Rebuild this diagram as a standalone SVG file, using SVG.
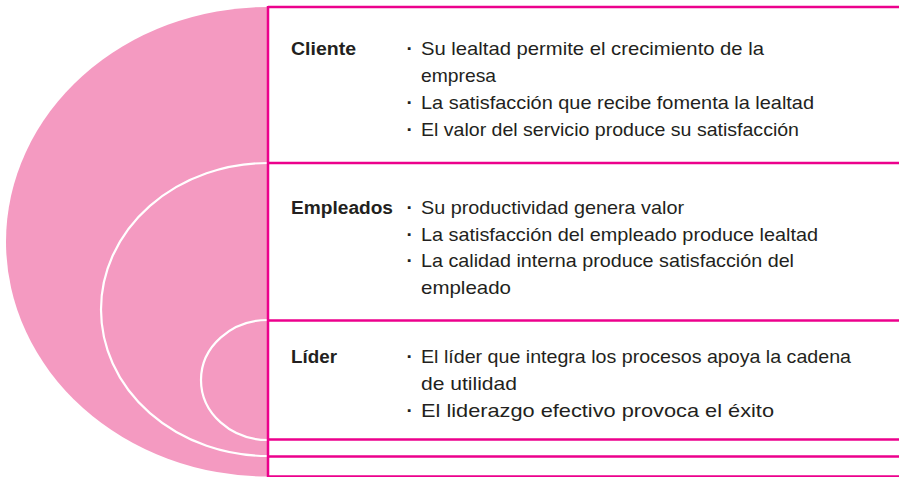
<svg xmlns="http://www.w3.org/2000/svg" width="899" height="477" viewBox="0 0 899 477">
<style>
.rule{stroke:#EC008C;stroke-width:2.5;fill:none}
.arc{stroke:#FFFFFF;stroke-width:2.2;fill:none}
.lbl{font-family:"Liberation Sans",Arial,sans-serif;font-weight:bold;font-size:18px;fill:#231F20}
.txt{font-family:"Liberation Sans",Arial,sans-serif;font-size:18.5px;fill:#231F20}
.bul{font-family:"Liberation Sans",Arial,sans-serif;font-size:19px;font-weight:bold;fill:#231F20}
</style>
<rect width="899" height="477" fill="#FFFFFF"/>
<g id="circles">
<path d="M268,7 A262,234.75 0 0 0 268,476.5 Z" fill="#F49AC1"/>
<path class="arc" d="M268,163 A167,146.5 0 0 0 268,456"/>
<path class="arc" d="M268,320 A67,60 0 0 0 268,440"/>
</g>
<g id="connectors">
<line class="rule" x1="268" y1="7" x2="899" y2="7"/>
<line class="rule" x1="268" y1="163" x2="899" y2="163"/>
<line class="rule" x1="268" y1="320.5" x2="899" y2="320.5"/>
<line class="rule" x1="268" y1="439.5" x2="899" y2="439.5"/>
<line class="rule" x1="268" y1="456.5" x2="899" y2="456.5"/>
<line class="rule" x1="268" y1="476.5" x2="899" y2="476.5"/>
<line class="rule" x1="268" y1="6" x2="268" y2="477"/>
</g>
<g id="cliente">
<text class="lbl" x="291" y="55" textLength="65" lengthAdjust="spacingAndGlyphs">Cliente</text>
<text class="bul" x="406.5" y="55">·</text>
<text class="txt" x="421" y="55" textLength="343" lengthAdjust="spacingAndGlyphs">Su lealtad permite el crecimiento de la</text>
<text class="txt" x="421" y="82" textLength="75" lengthAdjust="spacingAndGlyphs">empresa</text>
<text class="bul" x="406.5" y="108.5">·</text>
<text class="txt" x="421" y="108.5" textLength="393" lengthAdjust="spacingAndGlyphs">La satisfacción que recibe fomenta la lealtad</text>
<text class="bul" x="406.5" y="135.5">·</text>
<text class="txt" x="421" y="135.5" textLength="378" lengthAdjust="spacingAndGlyphs">El valor del servicio produce su satisfacción</text>
</g>
<g id="empleados">
<text class="lbl" x="291" y="214" textLength="102" lengthAdjust="spacingAndGlyphs">Empleados</text>
<text class="bul" x="406.5" y="214">·</text>
<text class="txt" x="421" y="214" textLength="263" lengthAdjust="spacingAndGlyphs">Su productividad genera valor</text>
<text class="bul" x="406.5" y="240.5">·</text>
<text class="txt" x="421" y="240.5" textLength="397" lengthAdjust="spacingAndGlyphs">La satisfacción del empleado produce lealtad</text>
<text class="bul" x="406.5" y="267">·</text>
<text class="txt" x="421" y="267" textLength="373" lengthAdjust="spacingAndGlyphs">La calidad interna produce satisfacción del</text>
<text class="txt" x="421" y="293.5" textLength="90" lengthAdjust="spacingAndGlyphs">empleado</text>
</g>
<g id="lider">
<text class="lbl" x="291" y="363" textLength="46" lengthAdjust="spacingAndGlyphs">Líder</text>
<text class="bul" x="406.5" y="363">·</text>
<text class="txt" x="421" y="363" textLength="430" lengthAdjust="spacingAndGlyphs">El líder que integra los procesos apoya la cadena</text>
<text class="txt" x="421" y="390" textLength="96" lengthAdjust="spacingAndGlyphs">de utilidad</text>
<text class="bul" x="406.5" y="417">·</text>
<text class="txt" x="421" y="417" textLength="353" lengthAdjust="spacingAndGlyphs">El liderazgo efectivo provoca el éxito</text>
</g>
</svg>
